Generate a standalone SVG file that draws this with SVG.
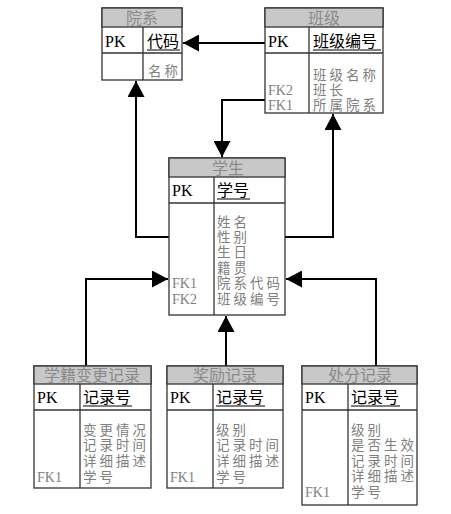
<svg xmlns="http://www.w3.org/2000/svg" width="451" height="514" viewBox="0 0 451 514">
<style>
.box{fill:#fff;stroke:#333;stroke-width:1.3}
.hdr{fill:#c8c8c8;stroke:#333;stroke-width:1.3}
.ln{stroke:#333;stroke-width:1.3}
.t{font-family:"Liberation Serif","Noto Sans CJK SC",serif;font-size:16px}
.h{fill:#8a8a8a;text-anchor:middle}
.k{fill:#000}
.a{fill:#808080}
.fk{font-size:14px}
.cj{font-size:13.5px;letter-spacing:3px}
.ul{stroke:#000;stroke-width:1.2}
.c{fill:none;stroke:#000;stroke-width:2}
</style>
<defs>
<marker id="arr" markerUnits="userSpaceOnUse" markerWidth="17" markerHeight="17" refX="16" refY="8.5" orient="auto">
<path d="M0,0 L16,8.5 L0,17 z" fill="#000"/>
</marker>
</defs>
<rect width="451" height="514" fill="#fff"/>
<g id="connectors">
<path class="c" d="M265,43 H183" marker-end="url(#arr)"/>
<path class="c" d="M169,237 H136 V81" marker-end="url(#arr)"/>
<path class="c" d="M265,100 H222 V157" marker-end="url(#arr)"/>
<path class="c" d="M285,237 H333 V114" marker-end="url(#arr)"/>
<path class="c" d="M86,366 V279 H168" marker-end="url(#arr)"/>
<path class="c" d="M226,366 V316" marker-end="url(#arr)"/>
<path class="c" d="M376,366 V279 H286" marker-end="url(#arr)"/>
</g>
<g id="yuanxi" class="t">
<rect class="box" x="102" y="8" width="80" height="72"/>
<rect class="hdr" x="102" y="8" width="80" height="19"/>
<line class="ln" x1="102" y1="53" x2="182" y2="53"/>
<line class="ln" x1="143" y1="27" x2="143" y2="80"/>
<text class="h" x="142" y="24">院系</text>
<text class="k" x="105" y="47">PK</text>
<text class="k" x="147" y="47">代码</text>
<line class="ul" x1="147" y1="50" x2="180" y2="50"/>
<text class="a cj" x="148" y="76">名称</text>
</g>
<g id="banji" class="t">
<rect class="box" x="265" y="8" width="118" height="105"/>
<rect class="hdr" x="265" y="8" width="118" height="19"/>
<line class="ln" x1="265" y1="53" x2="383" y2="53"/>
<line class="ln" x1="309" y1="27" x2="309" y2="113"/>
<text class="h" x="324" y="24">班级</text>
<text class="k" x="268" y="47">PK</text>
<text class="k" x="313" y="47">班级编号</text>
<line class="ul" x1="313" y1="50" x2="381" y2="50"/>
<text class="a cj" x="313" y="80">班级名称</text>
<text class="a cj" x="313" y="95">班长</text>
<text class="a cj" x="313" y="110">所属院系</text>
<text class="a fk" x="268" y="95">FK2</text>
<text class="a fk" x="268" y="110">FK1</text>
</g>
<g id="xuesheng" class="t">
<rect class="box" x="169" y="158" width="116" height="157"/>
<rect class="hdr" x="169" y="158" width="116" height="19"/>
<line class="ln" x1="169" y1="203" x2="285" y2="203"/>
<line class="ln" x1="214" y1="177" x2="214" y2="315"/>
<text class="h" x="228" y="174">学生</text>
<text class="k" x="172" y="196">PK</text>
<text class="k" x="217" y="196">学号</text>
<line class="ul" x1="217" y1="199" x2="250" y2="199"/>
<text class="a cj" x="217" y="227">姓名</text>
<text class="a cj" x="217" y="242">性别</text>
<text class="a cj" x="217" y="257">生日</text>
<text class="a cj" x="217" y="273">籍贯</text>
<text class="a cj" x="217" y="288">院系代码</text>
<text class="a cj" x="217" y="304">班级编号</text>
<text class="a fk" x="172" y="288">FK1</text>
<text class="a fk" x="172" y="304">FK2</text>
</g>
<g id="xuejibiangeng" class="t">
<rect class="box" x="34" y="366" width="117" height="122"/>
<rect class="hdr" x="34" y="366" width="117" height="18"/>
<line class="ln" x1="34" y1="410" x2="151" y2="410"/>
<line class="ln" x1="80" y1="384" x2="80" y2="488"/>
<text class="h" x="92" y="381">学籍变更记录</text>
<text class="k" x="37" y="403">PK</text>
<text class="k" x="83" y="403">记录号</text>
<line class="ul" x1="83" y1="406" x2="132" y2="406"/>
<text class="a cj" x="83" y="435">变更情况</text>
<text class="a cj" x="83" y="450">记录时间</text>
<text class="a cj" x="83" y="466">详细描述</text>
<text class="a cj" x="83" y="482">学号</text>
<text class="a fk" x="37" y="482">FK1</text>
</g>
<g id="jiangli" class="t">
<rect class="box" x="167" y="366" width="116" height="122"/>
<rect class="hdr" x="167" y="366" width="116" height="18"/>
<line class="ln" x1="167" y1="410" x2="283" y2="410"/>
<line class="ln" x1="213" y1="384" x2="213" y2="488"/>
<text class="h" x="225" y="381">奖励记录</text>
<text class="k" x="170" y="403">PK</text>
<text class="k" x="216" y="403">记录号</text>
<line class="ul" x1="216" y1="406" x2="265" y2="406"/>
<text class="a cj" x="216" y="435">级别</text>
<text class="a cj" x="216" y="450">记录时间</text>
<text class="a cj" x="216" y="466">详细描述</text>
<text class="a cj" x="216" y="482">学号</text>
<text class="a fk" x="170" y="482">FK1</text>
</g>
<g id="chufen" class="t">
<rect class="box" x="302" y="366" width="115" height="139"/>
<rect class="hdr" x="302" y="366" width="115" height="18"/>
<line class="ln" x1="302" y1="410" x2="417" y2="410"/>
<line class="ln" x1="348" y1="384" x2="348" y2="505"/>
<text class="h" x="360" y="381">处分记录</text>
<text class="k" x="305" y="403">PK</text>
<text class="k" x="351" y="403">记录号</text>
<line class="ul" x1="351" y1="406" x2="400" y2="406"/>
<text class="a cj" x="351" y="435">级别</text>
<text class="a cj" x="351" y="450">是否生效</text>
<text class="a cj" x="351" y="466">记录时间</text>
<text class="a cj" x="351" y="481">详细描述</text>
<text class="a cj" x="351" y="497">学号</text>
<text class="a fk" x="305" y="497">FK1</text>
</g>
</svg>
